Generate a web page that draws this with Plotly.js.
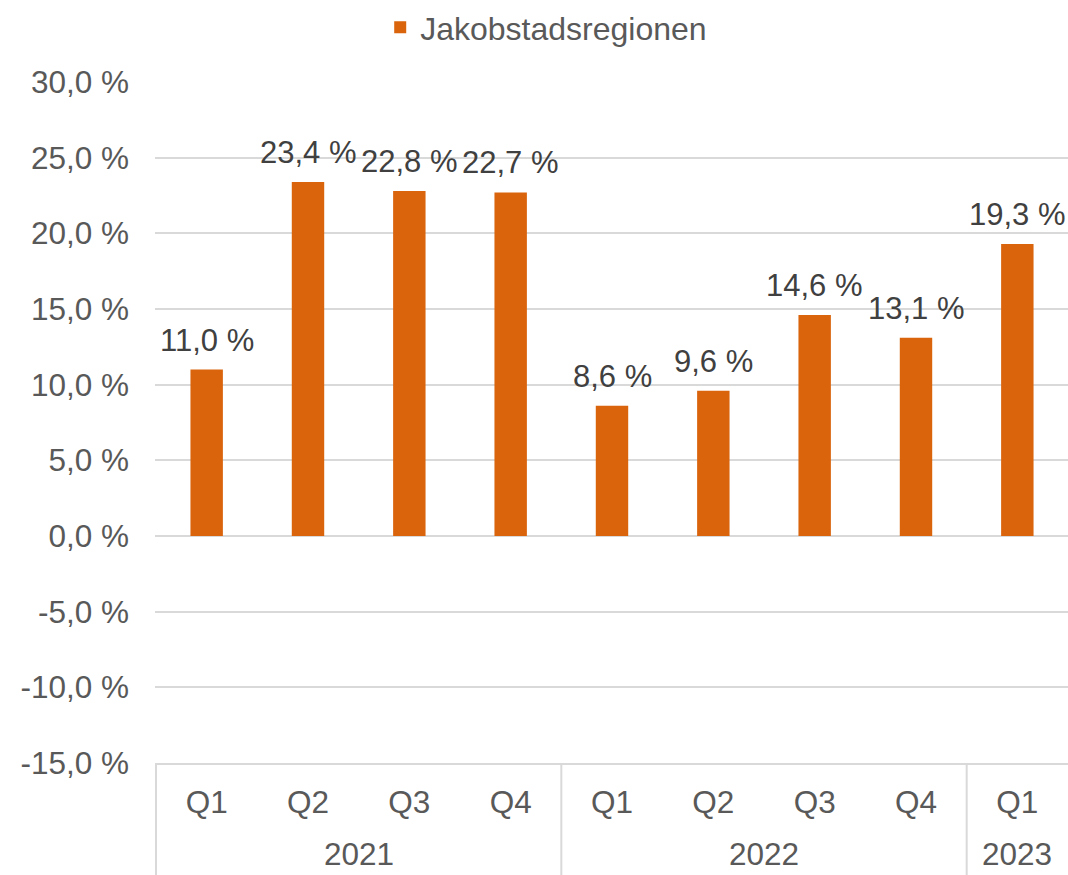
<!DOCTYPE html>
<html>
<head>
<meta charset="utf-8">
<script src="https://cdn.plot.ly/plotly-3.0.1.min.js"></script>
<style>html,body{margin:0;padding:0;background:#fff;}#chart{width:1068px;height:875px;}</style>
</head>
<body>
<div id="chart"></div>
<script>
const years = ["2021","2021","2021","2021","2022","2022","2022","2022","2023"];
const quarters = ["Q1","Q2","Q3","Q4","Q1","Q2","Q3","Q4","Q1"];
const values = [11.0, 23.4, 22.8, 22.7, 8.6, 9.6, 14.6, 13.1, 19.3];
const seriesName = "Jakobstadsregionen";
const yTickValues = [-15, -10, -5, 0, 5, 10, 15, 20, 25, 30];

const fmt = v => v.toFixed(1).replace('.', ',') + ' %';
const textColor = '#595959';
const fontFam = '"Liberation Sans", Arial, sans-serif';
const fs = 31.5;

const keys = years.map((y, i) => y + ' ' + quarters[i]);

const trace = {
  type: 'bar',
  name: seriesName,
  x: keys,
  y: values,
  marker: {color: '#D9640C'},
  hoverinfo: 'skip'
};

// data labels
const annotations = values.map((v, i) => ({
  x: keys[i], y: v, xref: 'x', yref: 'y',
  text: fmt(v), showarrow: false,
  yanchor: 'bottom', yshift: 10,
  font: {family: fontFam, size: 31, color: '#404040'}
}));

// year group labels and dividers
const groups = [];
years.forEach((y, i) => {
  if (!groups.length || groups[groups.length - 1].year !== y) groups.push({year: y, start: i, end: i});
  else groups[groups.length - 1].end = i;
});
const shapes = [];
groups.forEach(g => {
  annotations.push({
    x: (g.start + g.end) / 2, y: -0.134, xref: 'x', yref: 'paper',
    text: g.year, showarrow: false, yanchor: 'middle', borderpad: 0,
    font: {family: fontFam, size: fs, color: textColor}
  });
  shapes.push({
    type: 'line', xref: 'x', yref: 'paper',
    x0: g.start - 0.5, x1: g.start - 0.5, y0: 0, y1: -0.2,
    line: {color: '#D9D9D9', width: 2}
  });
});

const layout = {
  width: 1068, height: 875,
  margin: {l: 155, r: 0, t: 82, b: 112},
  paper_bgcolor: '#fff', plot_bgcolor: '#fff',
  font: {family: fontFam, size: fs, color: textColor},
  bargap: 0.68,
  showlegend: true,
  legend: {orientation: 'h', x: 0.356, xref: 'container', xanchor: 'left', y: 1, yref: 'container', yanchor: 'top',
           font: {family: fontFam, size: 32, color: textColor}},
  xaxis: {
    type: 'category',
    tickvals: keys, ticktext: quarters,
    showline: true, linecolor: '#D9D9D9', linewidth: 2,
    tickfont: {family: fontFam, size: fs, color: textColor},
    ticks: '', showgrid: false, zeroline: false, ticklabelstandoff: 10
  },
  yaxis: {
    range: [-15, 30],
    tickvals: yTickValues, ticktext: yTickValues.map(fmt),
    showgrid: true, gridcolor: '#D9D9D9', gridwidth: 2,
    zeroline: true, zerolinecolor: '#D9D9D9', zerolinewidth: 2,
    showline: false, ticks: '', ticklabelstandoff: 25,
    tickfont: {family: fontFam, size: fs, color: textColor}
  },
  annotations: annotations,
  shapes: shapes
};

Plotly.newPlot('chart', [trace], layout, {displayModeBar: false, staticPlot: true});
</script>
</body>
</html>
